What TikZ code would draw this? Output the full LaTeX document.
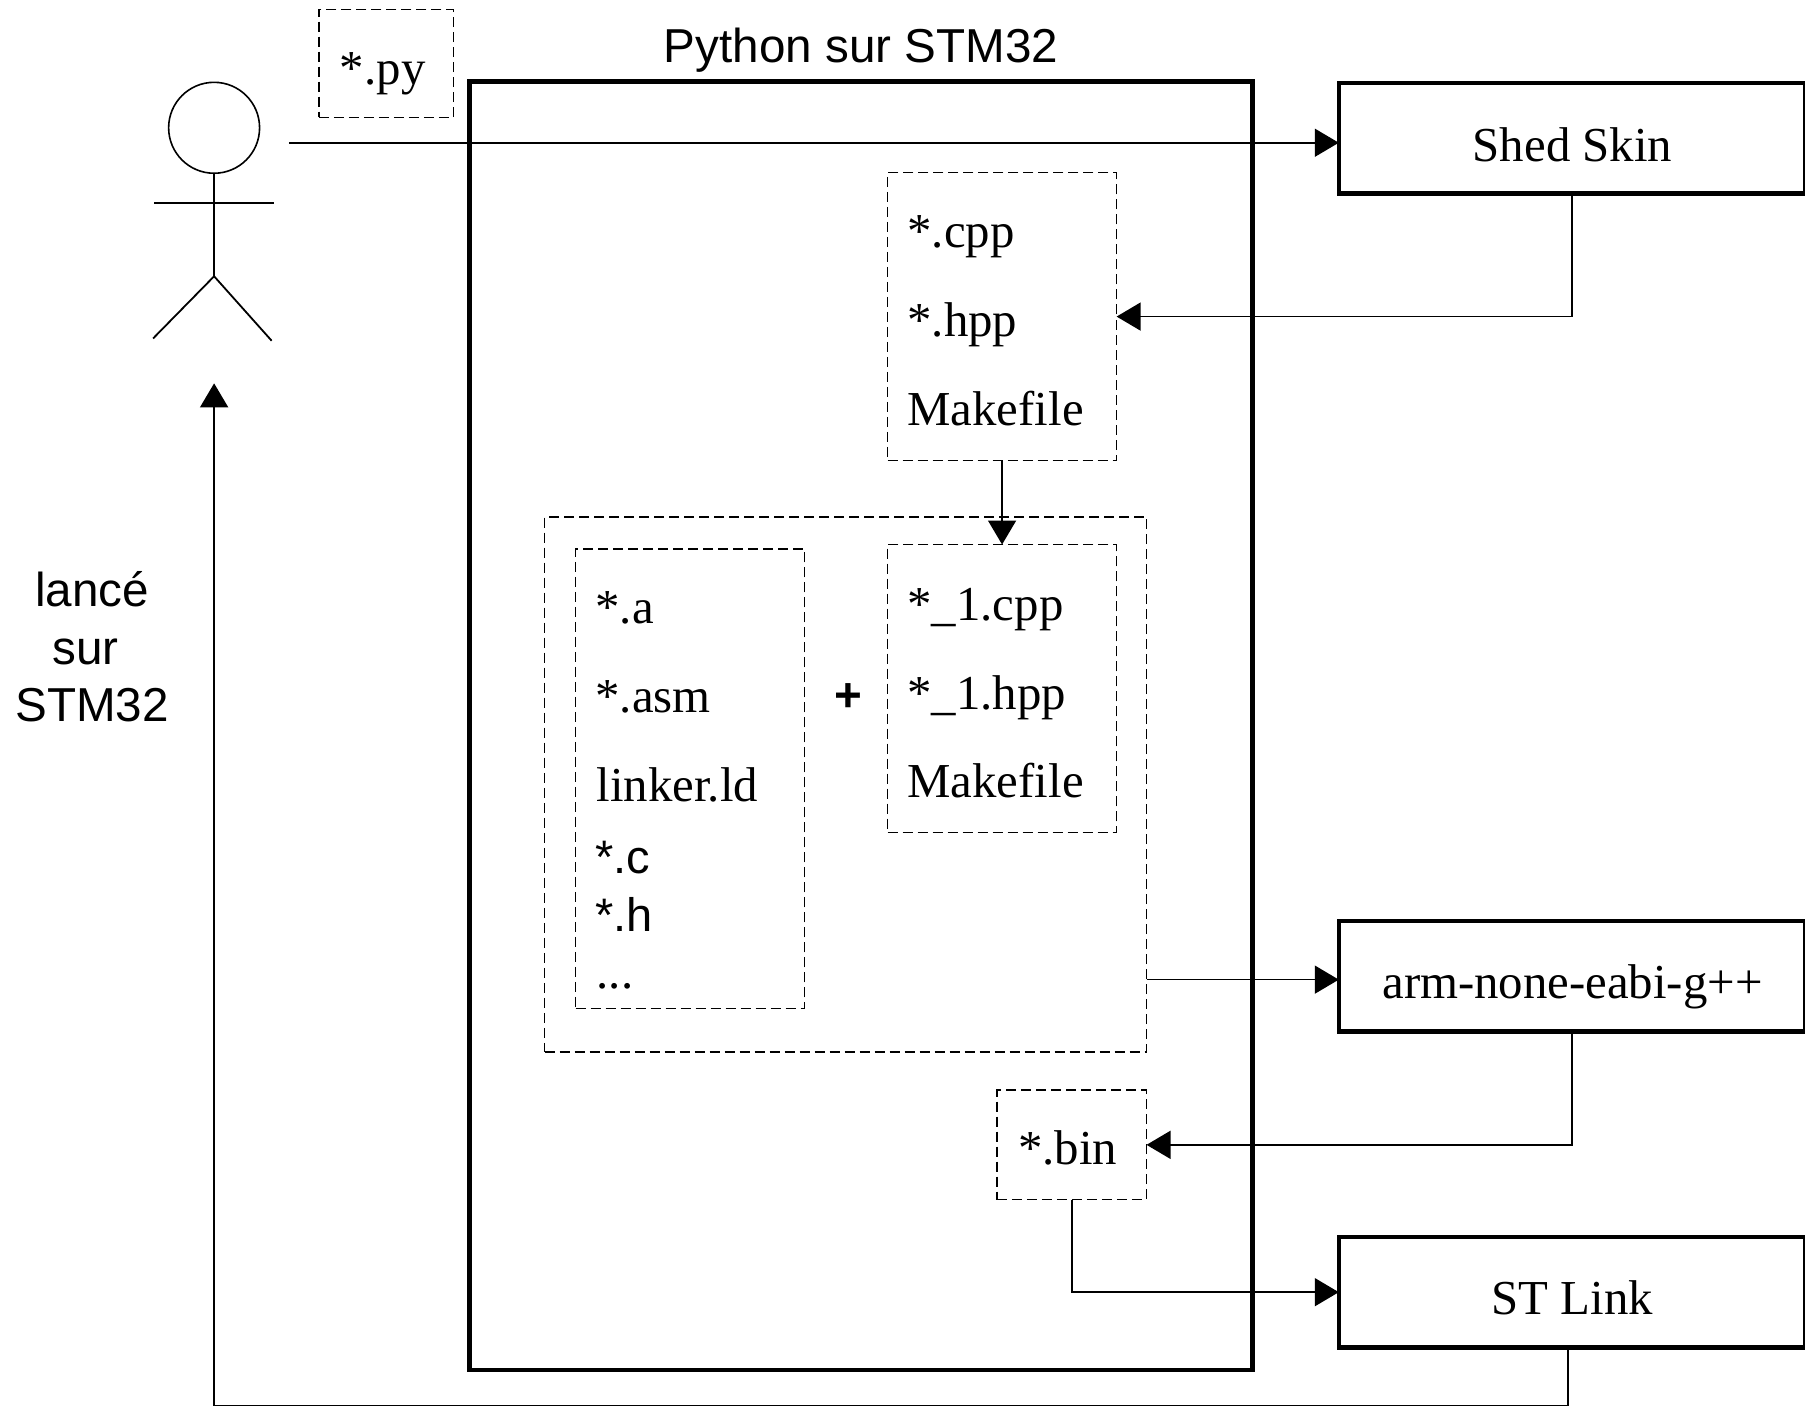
\documentclass[tikz,border=0pt]{standalone}
\usepackage{fontspec}
\setmainfont{Liberation Serif}
\newfontfamily\arialfont{Liberation Sans}
\usetikzlibrary{positioning}
\usetikzlibrary{arrows.meta}
\def\u{0.5755pt}
\tikzstyle{toolbox} = [rectangle, draw=black, line width=2.3pt, outer sep=0pt, inner sep=0pt, minimum width=405*\u, minimum height=96*\u, font=\fontsize{24.4pt}{28pt}\selectfont]
\tikzstyle{dashbox} = [rectangle, draw=black, dash pattern=on 5pt off 2.5pt, line width=0.7pt, outer sep=0pt, inner sep=0pt]
\tikzstyle{file} = [anchor=base west, inner sep=0pt, font=\fontsize{24.4pt}{28pt}\selectfont]
\tikzstyle{toolname} = [anchor=base, inner sep=0pt, font=\fontsize{24.4pt}{28pt}\selectfont]
\tikzstyle{filesans} = [anchor=base west, inner sep=0pt, font=\arialfont\fontsize{23.5pt}{28pt}\selectfont]
\tikzstyle{label} = [anchor=base, inner sep=0pt, font=\arialfont\fontsize{23.8pt}{28pt}\selectfont]
\tikzstyle{arrow} = [line width=0.8pt,-{Triangle[length=12pt,width=14pt]}]
\tikzstyle{limb} = [line width=0.9pt]

\begin{document}
\begin{tikzpicture}[x=0.5755pt, y=-0.5755pt]
    \useasboundingbox (0,0) rectangle (1568,1223);
    % main frame
    \node (main) [rectangle, draw=black, line width=2.3pt, minimum width=680*\u, minimum height=1119*\u, outer sep=0pt] at (748,630.5) {};
    \node (title) [label] at (748,54) {Python sur STM32};
    % tools
    \node (shed) [toolbox] at (1365.5,120) {};
    \node (arm) [toolbox] at (1365.5,848) {};
    \node (stlink) [toolbox] at (1365.5,1122.5) {};
    \node [toolname] at (1366,140) {Shed Skin};
    \node [toolname] at (1366,867) {arm-none-eabi-g++};
    \node [toolname] at (1366,1142) {ST Link};
    % dashed boxes
    \node (py) [dashbox, minimum width=117*\u, minimum height=94*\u] at (335.5,55) {};
    \node (cpp) [dashbox, minimum width=199*\u, minimum height=250*\u] at (870.5,275) {};
    \node (big) [dashbox, minimum width=523*\u, minimum height=465*\u] at (734.5,681.5) {};
    \node (libs) [dashbox, minimum width=199*\u, minimum height=399*\u] at (599.5,676.5) {};
    \node (cppone) [dashbox, minimum width=199*\u, minimum height=250*\u] at (870.5,598) {};
    \node (bin) [dashbox, minimum width=130*\u, minimum height=95*\u] at (931,994.5) {};
    % file names
    \node [file] at (295,73) {*.py};
    \node [file] at (788,215) {*.cpp};
    \node [file] at (788,292) {*.hpp};
    \node [file] at (788,370) {Makefile};
    \node [file] at (517,542) {*.a};
    \node [file] at (517,619) {*.asm};
    \node [file] at (518,696) {linker.ld};
    \node [filesans] at (517,759) {*.c};
    \node [filesans] at (517,809) {*.h};
    \node [file] at (518,859) {...};
    \node [label, font=\arialfont\bfseries\fontsize{23.8pt}{28pt}\selectfont] at (737,618) {+};
    \node [file] at (788,539) {*\_1.cpp};
    \node [file] at (788,616) {*\_1.hpp};
    \node [file] at (788,693) {Makefile};
    \node [file] at (884,1012) {*.bin};
    % user
    \node (head) [circle, draw=black, line width=0.8pt, minimum size=79*\u, inner sep=0pt, outer sep=0pt] at (186,111) {};
    \coordinate (hip) at (186,240);
    \coordinate (user) at (251,124);
    \draw [limb] (head.south) -- (hip);
    \draw [limb] (134,176) -- (238,176);
    \draw [limb] (133,294) -- (hip) -- (236,296);
    \node (lance) [label] at (80,527) {lancé};
    \node (sur) [label] at (74.5,577) {sur};
    \node (stm) [label] at (80,627) {STM32};
    % links
    \coordinate (armin) at (1163,851);
    \coordinate (stout) at (1362,1170);
    \coordinate (back) at (186,333);
    \draw [arrow] (user) -- (user -| shed.west);
    \draw [arrow] (shed.south) |- (cpp.east);
    \draw [arrow] (cpp.south) -- (cppone.north);
    \draw [arrow] (big.east |- armin) -- (armin);
    \draw [arrow] (arm.south) |- (bin.east);
    \draw [arrow] (bin.south) |- (stlink.west);
    \draw [arrow] (stout) -- (1362,1221) -| (back);
\end{tikzpicture}
\end{document}
